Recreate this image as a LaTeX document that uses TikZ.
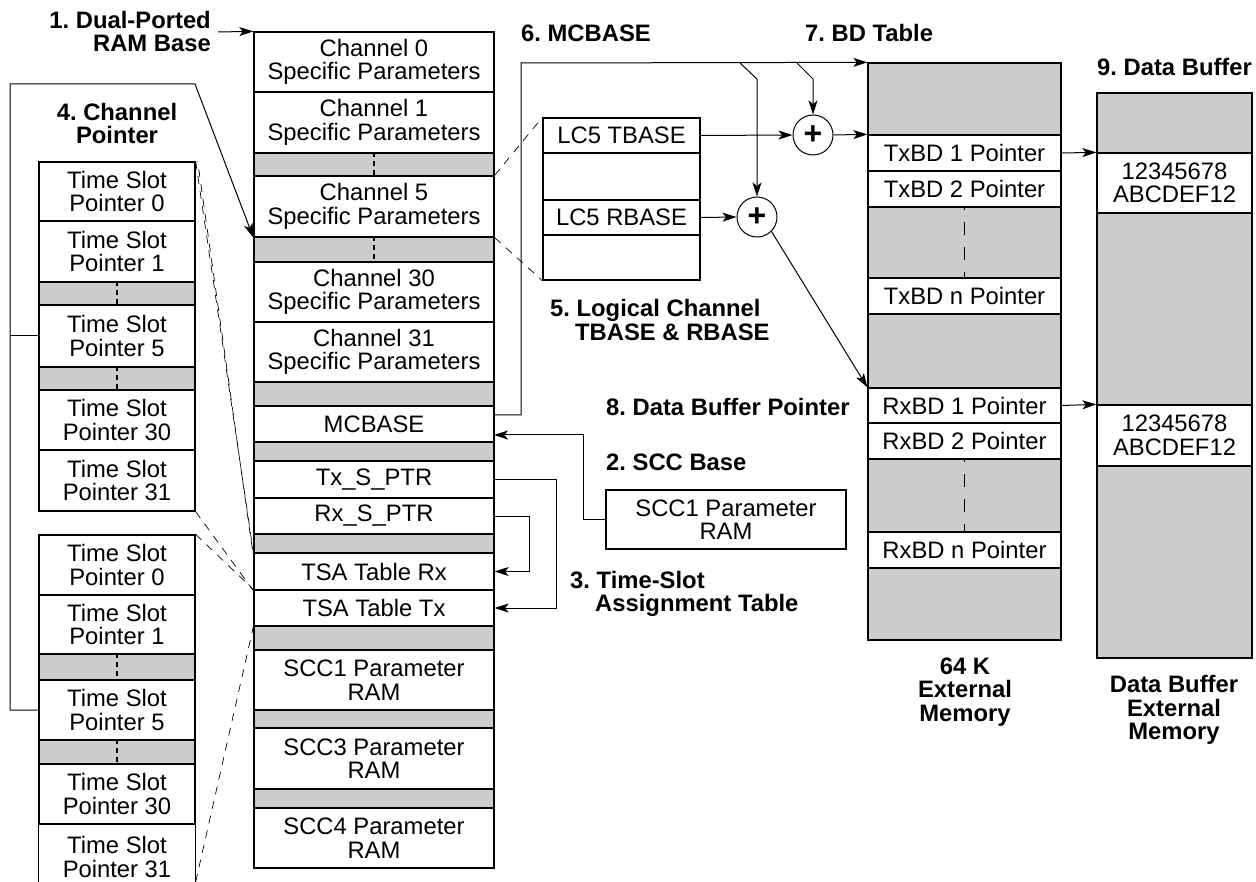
\documentclass[tikz,border=0pt]{standalone}
\usepackage{fontspec}
\setmainfont{Liberation Sans}
\usetikzlibrary{arrows.meta}
\definecolor{cellgray}{RGB}{204,204,204}
\newcommand\mkcell[7]{\node[cellbox,fill=#6,minimum width={(#4-#2)*1pt},minimum height={(#5-#3)*1pt}] (#1) at ({(#2+#4)/2},{(#3+#5)/2}) {#7};}
\tikzset{
  cellbox/.style={draw, line width=1.3pt, inner sep=0pt, align=center, font=\fontsize{23.8}{23.5}\selectfont},
  lab/.style={inner sep=0pt, font=\frenchspacing\bfseries\fontsize{23.8}{23.5}\selectfont},
  arr/.style={line width=1pt, -{Stealth[length=14pt,width=9pt,inset=3.5pt]}},
  conn/.style={line width=1pt},
  zoomline/.style={line width=0.7pt, dash pattern=on 8pt off 7pt},
  midtick/.style={line width=1.3pt, dash pattern=on 5pt off 4pt},
  bdtick/.style={line width=1.3pt, dash pattern=on 13pt off 12pt, dash phase=9pt},
  plus/.style={draw, circle, fill=white, line width=1pt, minimum size=40pt, inner sep=0pt, font=\bfseries\fontsize{32}{32}\selectfont}
}
\begin{document}
\frenchspacing
\begin{tikzpicture}[x=1pt,y=-1pt]
\fill[white] (0,0) rectangle (1256,882);
\useasboundingbox (0,0) rectangle (1256,882);

% ---------- centre column ----------
\mkcell{ch0}{254}{32}{494}{92}{white}{Channel 0\\Specific Parameters}
\mkcell{ch1}{254}{92}{494}{153}{white}{Channel 1\\Specific Parameters}
\mkcell{g1}{254}{153}{494}{176}{cellgray}{}
\mkcell{ch5}{254}{176}{494}{237}{white}{Channel 5\\Specific Parameters}
\mkcell{g2}{254}{237}{494}{262}{cellgray}{}
\mkcell{ch30}{254}{262}{494}{322}{white}{Channel 30\\Specific Parameters}
\mkcell{ch31}{254}{322}{494}{382}{white}{Channel 31\\Specific Parameters}
\mkcell{g3}{254}{382}{494}{406}{cellgray}{}
\mkcell{mcb}{254}{406}{494}{442}{white}{MCBASE}
\mkcell{g4}{254}{442}{494}{461}{cellgray}{}
\mkcell{txs}{254}{461}{494}{498}{white}{Tx\_S\_PTR}
\mkcell{rxs}{254}{498}{494}{534}{white}{Rx\_S\_PTR}
\mkcell{g5}{254}{534}{494}{553}{cellgray}{}
\mkcell{tsarx}{254}{553}{494}{590}{white}{TSA Table Rx}
\mkcell{tsatx}{254}{590}{494}{626}{white}{TSA Table Tx}
\mkcell{g6}{254}{626}{494}{650}{cellgray}{}
\mkcell{scca}{254}{650}{494}{710}{white}{SCC1 Parameter\\RAM}
\mkcell{g7}{254}{710}{494}{728}{cellgray}{}
\mkcell{sccc}{254}{728}{494}{789}{white}{SCC3 Parameter\\RAM}
\mkcell{g8}{254}{789}{494}{808}{cellgray}{}
\mkcell{sccd}{254}{808}{494}{868}{white}{SCC4 Parameter\\RAM}
\draw[midtick] (g1.north) -- (g1.south);
\draw[midtick] (g2.north) -- (g2.south);

% ---------- left column, upper group ----------
\mkcell{ts0a}{39}{162}{195}{221}{white}{Time Slot\\Pointer 0}
\mkcell{ts1a}{39}{221}{195}{282}{white}{Time Slot\\Pointer 1}
\mkcell{tga1}{39}{282}{195}{305}{cellgray}{}
\mkcell{ts5a}{39}{305}{195}{367}{white}{Time Slot\\Pointer 5}
\mkcell{tga2}{39}{367}{195}{390}{cellgray}{}
\mkcell{ts30a}{39}{390}{195}{450}{white}{Time Slot\\Pointer 30}
\mkcell{ts31a}{39}{450}{195}{511}{white}{Time Slot\\Pointer 31}
\draw[midtick] (tga1.north) -- (tga1.south);
\draw[midtick] (tga2.north) -- (tga2.south);

% ---------- left column, lower group ----------
\mkcell{ts0b}{39}{535}{195}{595}{white}{Time Slot\\Pointer 0}
\mkcell{ts1b}{39}{595}{195}{654}{white}{Time Slot\\Pointer 1}
\mkcell{tgb1}{39}{654}{195}{680}{cellgray}{}
\mkcell{ts5b}{39}{680}{195}{740}{white}{Time Slot\\Pointer 5}
\mkcell{tgb2}{39}{740}{195}{764}{cellgray}{}
\mkcell{ts30b}{39}{764}{195}{824}{white}{Time Slot\\Pointer 30}
\draw[midtick] (tgb1.north) -- (tgb1.south);
\draw[midtick] (tgb2.north) -- (tgb2.south);
\node[cellbox,draw=none,minimum width=156pt,minimum height=66pt] (ts31b) at (117,857) {Time Slot\\Pointer 31};
\coordinate (bl) at (0,882);
\draw[line width=1.3pt] (ts31b.west |- bl) -- (ts31b.north west) -- (ts31b.north east) -- (ts31b.east |- bl);

% ---------- LC5 box ----------
\mkcell{lct}{543}{118}{700}{153}{white}{LC5 TBASE}
\mkcell{lc2}{543}{153}{700}{200}{white}{}
\mkcell{lcr}{543}{200}{700}{235}{white}{LC5 RBASE}
\mkcell{lc4}{543}{235}{700}{280}{white}{}

% ---------- BD table ----------
\mkcell{bg1}{868}{63}{1061}{135}{cellgray}{}
\mkcell{txbd1}{868}{135}{1061}{171}{white}{TxBD 1 Pointer}
\mkcell{txbd2}{868}{171}{1061}{207}{white}{TxBD 2 Pointer}
\mkcell{bg2}{868}{207}{1061}{278}{cellgray}{}
\mkcell{txbdn}{868}{278}{1061}{314}{white}{TxBD n Pointer}
\mkcell{bg3}{868}{314}{1061}{388}{cellgray}{}
\mkcell{rxbd1}{868}{388}{1061}{423}{white}{RxBD 1 Pointer}
\mkcell{rxbd2}{868}{423}{1061}{459}{white}{RxBD 2 Pointer}
\mkcell{bg4}{868}{459}{1061}{532}{cellgray}{}
\mkcell{rxbdn}{868}{532}{1061}{568}{white}{RxBD n Pointer}
\mkcell{bg5}{868}{568}{1061}{640}{cellgray}{}
\draw[bdtick] (bg2.north) -- (bg2.south);
\draw[bdtick] (bg4.north) -- (bg4.south);

% ---------- data buffer ----------
\mkcell{dg1}{1097}{93}{1252}{153}{cellgray}{}
\mkcell{dat1}{1097}{153}{1252}{213}{white}{12345678\\ABCDEF12}
\mkcell{dg2}{1097}{213}{1252}{405}{cellgray}{}
\mkcell{dat2}{1097}{405}{1252}{466}{white}{12345678\\ABCDEF12}
\mkcell{dg3}{1097}{466}{1252}{658}{cellgray}{}

% ---------- SCC1 parameter RAM (right) ----------
\mkcell{sccr}{606}{490}{846}{549}{white}{SCC1 Parameter\\RAM}

% ---------- adders ----------
\node[plus] (plusT) at (813,135) {+};
\node[plus] (plusR) at (757,217) {+};

% ---------- labels ----------
\node[lab,align=right,anchor=east] (lab1) at (211,31.5) {1. Dual-Ported\\RAM Base};
\node[lab,align=center] (lab4) at (117,123.5) {4. Channel\\Pointer};
\node[lab,anchor=west] (lab6) at (521,33) {6. MCBASE};
\node[lab,anchor=west] (lab7) at (805,33) {7. BD Table};
\node[lab,anchor=west] (lab9) at (1097,67) {9. Data Buffer};
\node[lab,align=left,anchor=west] (lab5) at (550,320) {5. Logical Channel\\\hspace*{25pt}TBASE \& RBASE};
\node[lab,anchor=west] (lab8) at (606,407) {8. Data Buffer Pointer};
\node[lab,anchor=west] (lab2) at (606,462) {2. SCC Base};
\node[lab,align=left,anchor=west] (lab3) at (570,594) {3. Time-Slot\\\hspace*{25pt}Assignment Table};
\node[lab,align=center] (lab64) at (965,692) {64 K\\External\\Memory};
\node[lab,align=center] (labdb) at (1174,710) {Data Buffer\\External\\Memory};

% ---------- connectors ----------
\coordinate (a1) at (218,32);
\draw[arr] (a1) -- (ch0.north west);

\coordinate (cpl) at (10,84);
\coordinate (cpr) at (195,84);
\draw[conn] (ts5a.west) -- (ts5a.west -| cpl);
\draw[arr] (ts5b.west) -- (ts5b.west -| cpl) -- (cpl) -- (cpr) -- (ch5.south west);

\coordinate (m1) at (494,415);
\coordinate (m2) at (521,415);
\coordinate (m3) at (521,63);
\draw[arr] (m1) -- (m2) -- (m3) -- (bg1.north west);
\coordinate (b1) at (740,63);
\coordinate (b1k) at (757,79);
\draw[arr] (b1) -- (b1k) -- (plusR.north);
\coordinate (b2) at (797,63);
\coordinate (b2k) at (813,79);
\draw[arr] (b2) -- (b2k) -- (plusT.north);

\draw[arr] (lct.east) -- (plusT.west);
\draw[arr] (plusT.east) -- (txbd1.north west);
\draw[arr] (lcr.east) -- (plusR.west);
\draw[arr] (plusR.south east) -- (rxbd1.north west);

\coordinate (s2) at (583,435);
\coordinate (m4) at (494,435);
\draw[arr] (sccr.west) -| (s2) -- (m4);
\draw[arr] (txs.east) -- ++(62,0) |- (tsatx.east);
\draw[arr] (rxs.east) -- ++(35,0) |- (tsarx.east);

\draw[arr] (txbd1.east) -- (dat1.north west);
\draw[arr] (rxbd1.east) -- (dat2.north west);

% ---------- zoom (dashed) lines ----------
\draw[zoomline] (ch5.north east) -- (lct.north west);
\draw[zoomline] (ch5.south east) -- (lc4.south west);
\draw[zoomline] (ts0a.north east) -- (tsarx.north west);
\draw[zoomline, dash phase=7pt] ([xshift=2pt]ts0a.north east) -- ([yshift=-4pt]tsarx.north west);
\draw[zoomline] (ts31a.south east) -- (tsarx.south west);
\draw[zoomline] (ts0b.north east) -- (tsatx.north west);
\draw[zoomline] (ts31b.east |- bl) -- (tsatx.south west);
\end{tikzpicture}
\end{document}
